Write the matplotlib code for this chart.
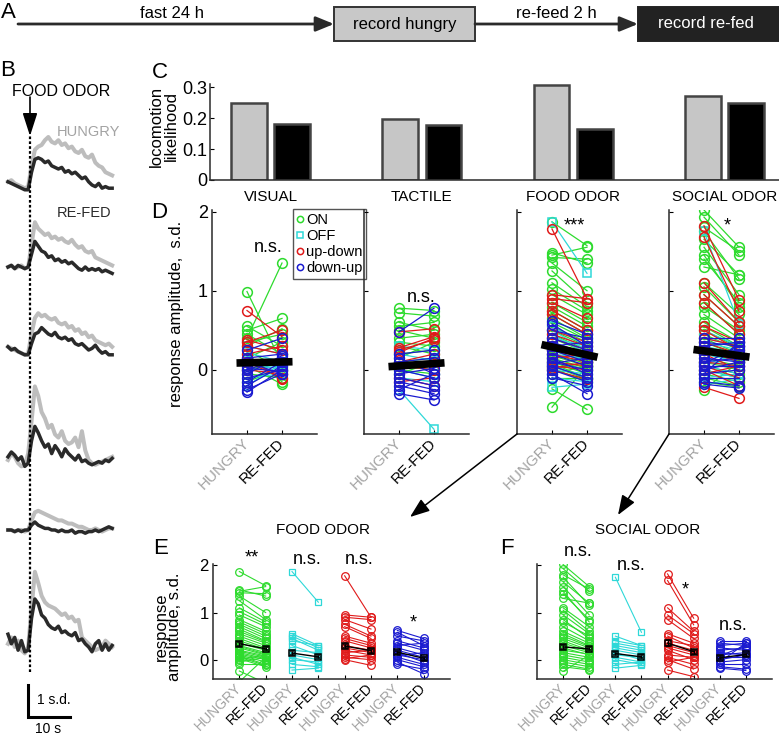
import matplotlib
matplotlib.use("Agg")
import matplotlib.pyplot as plt
from matplotlib.lines import Line2D
from matplotlib.patches import Rectangle
import numpy as np

plt.rcParams['font.family'] = ['Liberation Sans', 'DejaVu Sans']

W, H = 779, 745

# ---------------- data ----------------
stim_names = ["VISUAL", "TACTILE", "FOOD ODOR", "SOCIAL ODOR"]
loco_hungry = [0.248, 0.197, 0.306, 0.270]
loco_refed = [0.180, 0.177, 0.165, 0.250]

# panel B example traces (s.d.), one sample every 0.8 s, odor at ~5.2 s
hungry_traces = [
    [0.10, 0.15, 0.05, 0.00, -0.05, -0.10, -0.05, 0.60, 1.10, 1.20, 1.25, 1.40, 1.50, 1.35, 1.30, 1.40,
     1.25, 1.30, 1.15, 1.20, 1.05, 1.00, 1.10, 0.90, 0.85, 0.95, 0.70, 0.60, 0.55, 0.40, 0.35, 0.30],
    [0.00, 0.05, -0.05, 0.00, 0.05, -0.05, 0.00, 0.70, 1.40, 1.20, 1.10, 1.00, 1.05, 0.90, 0.95, 0.85,
     0.90, 0.80, 0.75, 0.85, 0.70, 0.60, 0.65, 0.50, 0.45, 0.50, 0.30, 0.25, 0.20, 0.15, 0.10, 0.05],
    [0.10, 0.05, 0.00, -0.05, -0.10, -0.15, -0.10, 0.50, 1.00, 1.15, 1.05, 1.10, 1.00, 0.95, 1.00, 0.85,
     0.80, 0.85, 0.70, 0.75, 0.60, 0.65, 0.50, 0.55, 0.40, 0.45, 0.30, 0.25, 0.20, 0.15, 0.20, 0.10],
    [0.00, 0.20, 0.10, -0.10, -0.20, -0.15, 0.20, 1.20, 2.30, 2.00, 1.50, 1.30, 1.00, 1.10, 0.80, 0.70,
     0.90, 0.60, 0.50, 0.55, 0.70, 0.40, 0.90, 0.30, 0.00, -0.10, -0.15, -0.10, -0.05, 0.00, 0.05, 0.10],
    [0.00, 0.00, -0.05, 0.00, 0.00, -0.05, 0.00, 0.30, 0.55, 0.60, 0.55, 0.50, 0.45, 0.40, 0.35, 0.30,
     0.30, 0.25, 0.20, 0.20, 0.15, 0.10, 0.10, 0.05, 0.00, 0.00, 0.05, 0.00, -0.05, 0.00, 0.05, 0.05],
    [0.10, 0.30, 0.00, 0.20, -0.10, -0.20, 0.00, 1.20, 2.35, 2.00, 1.60, 1.40, 1.30, 1.25, 1.20, 1.10,
     1.00, 1.05, 0.90, 0.95, 0.80, 0.85, 0.30, 0.20, 0.10, 0.00, -0.10, -0.05, 0.00, 0.20, 0.10, 0.00],
]
refed_traces = [
    [0.10, 0.05, 0.00, -0.05, -0.10, -0.15, -0.15, 0.40, 0.80, 0.85, 0.80, 0.70, 0.75, 0.60, 0.55, 0.50,
     0.55, 0.40, 0.45, 0.35, 0.40, 0.30, 0.20, 0.25, 0.10, 0.00, -0.05, 0.05, -0.10, -0.05, -0.10, -0.10],
    [0.00, 0.05, -0.05, 0.05, 0.00, -0.05, 0.00, 0.40, 0.80, 0.65, 0.50, 0.45, 0.30, 0.35, 0.20, 0.25,
     0.15, 0.20, 0.10, 0.15, 0.05, -0.05, -0.10, 0.00, -0.10, -0.05, -0.10, -0.05, -0.15, -0.10, -0.15, -0.20],
    [0.10, 0.00, 0.05, -0.05, -0.10, -0.15, -0.15, 0.20, 0.50, 0.55, 0.70, 0.60, 0.50, 0.45, 0.55, 0.40,
     0.35, 0.40, 0.30, 0.35, 0.20, 0.15, 0.20, 0.10, 0.00, 0.05, 0.15, 0.00, -0.10, -0.05, -0.15, -0.15],
    [0.10, 0.25, 0.15, 0.00, 0.10, -0.20, -0.10, 0.60, 1.05, 0.85, 0.60, 0.40, 0.50, 0.20, 0.45, 0.30,
     0.10, 0.35, 0.20, 0.10, 0.00, 0.15, -0.05, 0.00, -0.10, -0.15, -0.10, -0.05, -0.10, 0.00, -0.05, 0.05],
    [0.00, 0.00, -0.05, 0.00, -0.05, 0.00, 0.00, 0.15, 0.25, 0.15, 0.10, 0.05, 0.05, 0.00, 0.00, -0.05,
     0.00, -0.05, -0.05, 0.00, -0.10, -0.05, -0.05, -0.10, -0.05, -0.05, 0.00, -0.05, 0.00, 0.05, 0.10, 0.05],
    [0.40, 0.10, 0.30, -0.10, 0.20, -0.15, -0.10, 0.90, 1.50, 1.35, 1.00, 0.90, 0.70, 0.60, 0.55, 0.65,
     0.45, 0.50, 0.40, 0.35, 0.45, 0.20, 0.25, 0.10, 0.00, -0.15, 0.10, 0.20, -0.10, 0.10, -0.10, 0.05],
]

# panel D/E/F: (hungry, re-fed) response amplitude per neuron, s.d.
visual_on = [(0.99, 0.08), (0.40, 1.35), (0.55, 0.30), (0.50, 0.65), (0.45, 0.20), (0.30, 0.52), (0.25, 0.00),
             (0.20, -0.15), (0.10, 0.05), (0.05, -0.18), (0.00, 0.10), (-0.05, -0.10), (0.15, 0.35),
             (0.35, 0.45), (-0.15, 0.02)]
visual_off = [(0.30, 0.20), (0.22, 0.10), (0.10, 0.00), (0.00, 0.05), (-0.10, -0.05), (0.05, 0.15), (-0.20, 0.08)]
visual_updown = [(0.75, 0.42), (0.38, 0.25), (0.35, 0.50), (0.30, 0.20), (0.10, -0.10), (0.00, -0.05),
                 (0.20, 0.30), (0.15, -0.12)]
visual_downup = [(0.25, 0.40), (0.15, 0.20), (0.05, 0.10), (0.00, 0.15), (-0.10, 0.00), (-0.20, 0.05),
                 (-0.25, -0.05), (-0.28, 0.00), (0.10, -0.05), (-0.05, 0.18), (-0.15, 0.10), (0.02, -0.02)]

tactile_on = [(0.78, 0.75), (0.72, 0.68), (0.55, 0.60), (0.50, 0.40), (0.40, 0.45), (0.35, 0.30), (0.30, 0.20),
              (0.20, 0.25), (0.10, 0.15), (0.05, 0.00), (0.00, -0.05), (0.15, 0.35), (0.60, 0.50), (-0.05, 0.10)]
tactile_off = [(-0.25, -0.75), (0.30, 0.25), (0.10, 0.05), (0.00, -0.10), (-0.10, -0.15), (0.20, 0.12)]
tactile_updown = [(0.48, 0.52), (0.28, 0.42), (0.25, 0.38), (0.10, 0.20), (-0.10, -0.20), (0.05, 0.00),
                  (-0.15, -0.10), (0.22, 0.40)]
tactile_downup = [(0.48, 0.78), (0.20, 0.25), (0.10, 0.15), (0.00, -0.10), (-0.10, -0.20), (-0.20, -0.30),
                  (-0.30, -0.38), (-0.25, -0.05), (0.15, -0.05), (0.05, 0.10), (-0.05, 0.02), (-0.15, -0.25)]

food_on = [(1.87, 1.57), (1.48, 1.35), (1.45, 1.55), (1.42, 1.40), (1.35, 1.00), (1.25, 0.85), (1.10, 0.80),
           (1.02, 0.75), (0.95, 0.70), (0.85, 0.60), (0.80, 0.55), (0.75, 0.50), (0.70, 0.45), (0.65, 0.40),
           (0.60, 0.38), (0.55, 0.35), (0.50, 0.30), (0.45, 0.25), (0.40, 0.22), (0.35, 0.20), (0.30, 0.15),
           (0.28, 0.12), (0.25, 0.10), (0.20, 0.08), (0.18, 0.05), (0.15, 0.02), (0.12, 0.00), (0.10, -0.05),
           (0.08, -0.10), (0.05, -0.12), (0.02, -0.15), (0.00, 0.10), (-0.05, 0.05), (-0.10, -0.10),
           (-0.24, -0.50), (-0.47, 0.05)]
food_off = [(1.87, 1.22), (0.55, 0.30), (0.50, 0.25), (0.45, 0.20), (0.40, 0.30), (0.30, 0.10), (0.20, 0.15),
            (0.10, 0.00), (0.05, -0.10), (0.00, -0.05), (-0.10, -0.15), (-0.22, -0.18)]
food_updown = [(1.78, 0.90), (0.95, 0.90), (0.90, 0.85), (0.85, 0.65), (0.75, 0.50), (0.70, 0.45), (0.50, 0.35),
               (0.45, 0.30), (0.40, 0.25), (0.30, 0.20), (0.25, 0.15), (0.20, 0.10), (0.15, 0.20), (0.10, 0.05),
               (0.05, 0.00), (0.00, -0.12), (0.02, 0.10)]
food_downup = [(0.62, 0.45), (0.58, 0.30), (0.50, 0.40), (0.40, 0.25), (0.35, 0.20), (0.30, 0.35), (0.25, 0.10),
               (0.20, 0.05), (0.15, -0.05), (0.10, 0.00), (0.05, -0.10), (0.00, -0.15), (-0.05, -0.30),
               (-0.10, -0.20), (0.08, 0.15)]

social_on = [(2.02, 1.55), (1.93, 1.45), (1.80, 1.50), (1.75, 1.15), (1.65, 1.20), (1.55, 0.95), (1.45, 0.80),
             (1.40, 0.85), (1.30, 1.20), (1.10, 0.70), (1.05, 0.60), (0.95, 0.55), (0.85, 0.45), (0.80, 0.50),
             (0.70, 0.40), (0.60, 0.35), (0.55, 0.30), (0.50, 0.28), (0.45, 0.25), (0.40, 0.20), (0.35, 0.18),
             (0.30, 0.15), (0.25, 0.10), (0.20, 0.12), (0.15, 0.05), (0.10, 0.00), (0.05, -0.05), (0.00, -0.10),
             (-0.05, -0.15), (-0.10, -0.20), (-0.15, -0.22), (-0.25, 0.10)]
social_off = [(1.75, 0.58), (0.50, 0.30), (0.40, 0.30), (0.35, 0.25), (0.30, 0.20), (0.25, 0.15), (0.20, 0.10),
              (0.15, 0.00), (0.10, 0.05), (0.05, -0.05), (0.00, -0.10), (-0.10, -0.05), (-0.18, -0.12)]
social_updown = [(1.82, 0.88), (1.68, 0.74), (1.10, 0.60), (0.95, 0.55), (0.85, 0.45), (0.55, 0.35), (0.50, 0.25),
                 (0.40, 0.30), (0.35, 0.20), (0.30, 0.15), (0.25, 0.10), (0.20, 0.00), (0.10, 0.05),
                 (0.05, -0.10), (0.00, -0.20), (-0.05, 0.05), (-0.22, -0.36)]
social_downup = [(0.40, 0.40), (0.35, 0.30), (0.30, 0.35), (0.25, 0.20), (0.20, 0.25), (0.15, 0.10), (0.10, 0.15),
                 (0.05, 0.05), (0.00, 0.10), (-0.05, 0.00), (-0.10, -0.10), (-0.15, -0.20), (0.08, 0.30),
                 (-0.05, 0.35), (-0.18, -0.23)]

d_mean_hungry = [0.09, 0.05, 0.29, 0.24]
d_mean_refed = [0.10, 0.08, 0.19, 0.18]
d_signif = ["n.s.", "n.s.", "***", "*"]

food_mean_hungry = [0.34, 0.14, 0.29, 0.16]
food_mean_refed = [0.23, 0.06, 0.19, 0.03]
food_sem_hungry = [0.04, 0.05, 0.05, 0.03]
food_sem_refed = [0.03, 0.03, 0.04, 0.03]
food_signif = ["**", "n.s.", "n.s.", "*"]

social_mean_hungry = [0.27, 0.13, 0.35, 0.04]
social_mean_refed = [0.23, 0.06, 0.17, 0.11]
social_sem_hungry = [0.04, 0.04, 0.06, 0.03]
social_sem_refed = [0.03, 0.03, 0.04, 0.03]
social_signif = ["n.s.", "n.s.", "*", "n.s."]

type_names = ["ON", "OFF", "up-down", "down-up"]
type_colors = ["#2edb2e", "#2ed8d8", "#e01a1a", "#1a1ad0"]
type_markers = ["o", "s", "o", "o"]
GRAY = "#a3a3a3"
DARK = "#2a2a2a"

visual_sets = [visual_on, visual_off, visual_updown, visual_downup]
tactile_sets = [tactile_on, tactile_off, tactile_updown, tactile_downup]
food_sets = [food_on, food_off, food_updown, food_downup]
social_sets = [social_on, social_off, social_updown, social_downup]


def px_box(x0, y0, x1, y1):
    return [x0 / W, 1 - y1 / H, (x1 - x0) / W, (y1 - y0) / H]


def style_axes(ax):
    for s in ["top", "right"]:
        ax.spines[s].set_visible(False)
    for s in ["left", "bottom"]:
        ax.spines[s].set_linewidth(1.1)
        ax.spines[s].set_color(DARK)
    ax.set_facecolor("none")


fig = plt.figure(figsize=(W / 100, H / 100), dpi=100)

# overlay in pixel coordinates for panel A, labels and arrows
ov = fig.add_axes([0, 0, 1, 1], zorder=10)
ov.set_xlim(0, W)
ov.set_ylim(H, 0)
ov.axis("off")

# ---------------- A ----------------
ov.text(8, 12, "A", fontsize=16, ha="center", va="center")
arrow_a = dict(arrowstyle="-|>,head_length=1.1,head_width=0.45", lw=2, color=DARK,
               shrinkA=0, shrinkB=0, mutation_scale=10)
ov.annotate("", xy=(334, 24), xytext=(18, 24), arrowprops=arrow_a)
ov.annotate("", xy=(638, 24), xytext=(475, 24), arrowprops=arrow_a)
ov.text(172, 13, "fast 24 h", fontsize=12, ha="center", va="center")
ov.text(556, 13, "re-feed 2 h", fontsize=12, ha="center", va="center")
ov.add_patch(Rectangle((334, 7), 141, 34, fc="#c8c8c8", ec="#333333", lw=1.4))
ov.text(405, 24, "record hungry", fontsize=12, ha="center", va="center")
ov.add_patch(Rectangle((638, 7), 145, 34, fc="#222222", ec="#222222", lw=1.4, clip_on=False))
ov.text(706, 24, "record re-fed", fontsize=12, ha="center", va="center", color="white")

# ---------------- B ----------------
axb = fig.add_axes(px_box(0, 95, 135, 745))
axb.axis("off")
axb.set_xlim(-8 / 4.2, 127 / 4.2)
axb.set_ylim(0, 650 / 32)
trace_base = [(745 - p) / 32 for p in [185, 267, 350, 460, 530, 647]]
for base, th, tr in zip(trace_base, hungry_traces, refed_traces):
    t = np.arange(len(th)) * 0.8
    axb.plot(t, np.array(th) + base, color="#bdbdbd", lw=2.9, solid_joinstyle="round")
    axb.plot(t, np.array(tr) + base, color=DARK, lw=2.5, solid_joinstyle="round")
t_odor = 22 / 4.2
axb.plot([t_odor, t_odor], [(745 - 672) / 32, (745 - 135) / 32], color="k", lw=1.6, dashes=(1.2, 1.0))
sb_t, sb_y = 20 / 4.2, 28 / 32
axb.plot([sb_t, sb_t, sb_t + 10], [sb_y + 1, sb_y, sb_y], color="k", lw=2.2, solid_joinstyle="miter")

ov.text(8, 70, "B", fontsize=16, ha="center", va="center")
ov.text(61, 91, "FOOD ODOR", fontsize=11.5, ha="center", va="center")
ov.annotate("", xy=(30, 136), xytext=(30, 97),
            arrowprops=dict(arrowstyle="-|>,head_length=1.4,head_width=0.45", lw=1.2, color="k",
                            shrinkA=0, shrinkB=0, mutation_scale=10))
ov.text(88, 132, "HUNGRY", fontsize=10.5, ha="center", va="center", color=GRAY)
ov.text(84, 213, "RE-FED", fontsize=10.5, ha="center", va="center", color=DARK)
ov.text(37, 700, "1 s.d.", fontsize=10, ha="left", va="center")
ov.text(48, 729, "10 s", fontsize=10, ha="center", va="center")

# ---------------- C ----------------
axc = fig.add_axes(px_box(210, 84, 779, 180))
style_axes(axc)
centers = np.arange(len(stim_names))
axc.bar(centers - 0.143, loco_hungry, width=0.235, color="#c6c6c6", edgecolor="#444444", lw=1.8)
axc.bar(centers + 0.143, loco_refed, width=0.235, color="black", edgecolor="#444444", lw=1.8)
axc.set_xlim(-0.40, 3.36)
axc.set_ylim(0, 0.31)
axc.set_yticks([0, 0.1, 0.2, 0.3])
axc.set_yticklabels(["0", "0.1", "0.2", "0.3"])
axc.set_xticks(centers)
axc.set_xticklabels(stim_names)
axc.tick_params(axis="y", direction="in", length=3, labelsize=13, pad=2)
axc.tick_params(axis="x", length=0, labelsize=11, pad=7)
ov.text(160, 72, "C", fontsize=16, ha="center", va="center")
ov.text(164, 126, "locomotion\nlikelihood", fontsize=12, rotation=90, ha="center", va="center",
        linespacing=1.0)


def tick_colors(ax, n):
    for k, lbl in enumerate(ax.get_xticklabels()):
        lbl.set_color(GRAY if k % 2 == 0 else "black")


# ---------------- D ----------------
d_left = [212, 364, 517, 669]
d_sets = [visual_sets, tactile_sets, food_sets, social_sets]
for i, x0 in enumerate(d_left):
    ax = fig.add_axes(px_box(x0, 210, x0 + 105, 434))
    style_axes(ax)
    ax.set_xlim(0, 3)
    ax.set_ylim(-0.81, 2.02)
    for pairs, col, mk in zip(d_sets[i], type_colors, type_markers):
        for h, r in pairs:
            ax.plot([1, 2], [h, r], color=col, lw=0.9, marker=mk, ms=7 if mk == "o" else 6,
                    mfc="none", mec=col, mew=1.1)
    xs = np.array([0.7, 2.3])
    ys = d_mean_hungry[i] + (d_mean_refed[i] - d_mean_hungry[i]) * (xs - 1)
    ax.plot(xs, ys, color="k", lw=5.5, solid_capstyle="butt")
    ax.set_yticks([0, 1, 2])
    if i == 0:
        ax.set_yticklabels(["0", "1", "2"])
    else:
        ax.set_yticklabels([])
    ax.set_xticks([1, 2])
    ax.set_xticklabels(["HUNGRY", "RE-FED"], rotation=45, ha="right", va="center",
                       rotation_mode="anchor", fontsize=11)
    tick_colors(ax, 2)
    ax.tick_params(direction="in", length=3, width=0.8, labelsize=13, pad=3)
    ax.tick_params(axis="x", labelsize=11, pad=5)
    if i == 0:
        handles = [Line2D([], [], ls="none", marker=m, ms=4.5, mfc="none", mec=c, mew=1.1)
                   for c, m in zip(type_colors, type_markers)]
        leg = ax.legend(handles, type_names, loc="upper left", bbox_to_anchor=(293 / W, 1 - 209 / H),
                        bbox_transform=fig.transFigure, fontsize=10.5, handlelength=0.5,
                        handletextpad=0.15, labelspacing=0.15, borderpad=0.25, borderaxespad=0,
                        fancybox=False, framealpha=1)
        leg.get_frame().set_edgecolor("#555555")
        leg.get_frame().set_linewidth(1.0)

ov.text(159, 212, "D", fontsize=16, ha="center", va="center")
ov.text(177, 314, "response amplitude,  s.d.", fontsize=12, rotation=90, ha="center", va="center")
d_sig_pos = [(268, 248), (421, 297), (574, 226), (727, 226)]
for txt, (x, y) in zip(d_signif, d_sig_pos):
    ov.text(x, y, txt, fontsize=13, ha="center", va="center")

# arrows from D to E / F
arrow_de = dict(arrowstyle="-|>,head_length=1.2,head_width=0.45", lw=1.1, color="k",
                shrinkA=0, shrinkB=0, mutation_scale=10)
ov.annotate("", xy=(410, 517), xytext=(517, 434), arrowprops=arrow_de)
ov.annotate("", xy=(618, 515), xytext=(669, 434), arrowprops=arrow_de)


# ---------------- E / F ----------------
def group_panel(x0, x1, sets, mh, mr, sh, sr, ylabels):
    ax = fig.add_axes(px_box(x0, 564, x1, 679))
    style_axes(ax)
    ax.set_xlim(0, 9)
    ax.set_ylim(-0.41, 2.03)
    for g, (pairs, col, mk) in enumerate(zip(sets, type_colors, type_markers)):
        xg = 1 + 2 * g
        for h, r in pairs:
            ax.plot([xg, xg + 1], [h, r], color=col, lw=0.8, marker=mk, ms=5.5 if mk == "o" else 5,
                    mfc="none", mec=col, mew=0.9)
        ax.errorbar([xg, xg + 1], [mh[g], mr[g]], yerr=[sh[g], sr[g]], fmt="s-", color="k", lw=1.0,
                    ms=5, mfc="none", mec="k", mew=1.1, capsize=1.5, elinewidth=0.9, zorder=5)
    ax.set_yticks([0, 1, 2])
    ax.set_yticklabels(["0", "1", "2"] if ylabels else [])
    ax.set_xticks(np.arange(1, 9))
    ax.set_xticklabels(["HUNGRY", "RE-FED"] * 4, rotation=45, ha="right", va="center",
                       rotation_mode="anchor", fontsize=10)
    tick_colors(ax, 8)
    ax.tick_params(direction="in", length=3, width=0.8, labelsize=12, pad=3)
    ax.tick_params(axis="x", labelsize=10, pad=5)
    return ax


group_panel(213, 450, food_sets, food_mean_hungry, food_mean_refed, food_sem_hungry, food_sem_refed, True)
group_panel(537, 772, social_sets, social_mean_hungry, social_mean_refed, social_sem_hungry,
            social_sem_refed, False)

ov.text(323, 530, "FOOD ODOR", fontsize=11, ha="center", va="center")
ov.text(648, 530, "SOCIAL ODOR", fontsize=11, ha="center", va="center")
ov.text(161, 548, "E", fontsize=16, ha="center", va="center")
ov.text(507, 548, "F", fontsize=16, ha="center", va="center")
ov.text(168, 627, "response\namplitude, s.d.", fontsize=12, rotation=90, ha="center", va="center",
        linespacing=0.9)

e_sig_pos = [(252, 558), (307, 560), (359, 560), (413, 623)]
f_sig_pos = [(578, 552), (631, 565), (685, 590), (733, 625)]
for txt, (x, y) in zip(food_signif, e_sig_pos):
    ov.text(x, y, txt, fontsize=13, ha="center", va="center")
for txt, (x, y) in zip(social_signif, f_sig_pos):
    ov.text(x, y, txt, fontsize=13, ha="center", va="center")

fig.savefig("out.png", dpi=100)
